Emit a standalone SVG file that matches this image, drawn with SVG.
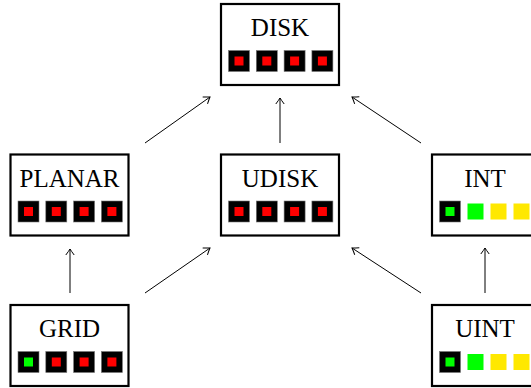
<svg xmlns="http://www.w3.org/2000/svg" width="531" height="388" viewBox="0 0 531 388">
  <style>
    .box { fill: #fff; stroke: #000; stroke-width: 2.2; }
    .lbl { font-family: "Liberation Serif", "Times New Roman", serif; font-size: 25px; fill: #000; text-anchor: middle; }
    .blk { fill: #000; stroke: #777; stroke-width: 0.6; }
    .red { fill: #ff0000; }
    .grn { fill: #00ff00; }
    .yel { fill: #ffe800; }
    .edge { stroke: #000; stroke-width: 1; fill: none; marker-end: url(#arr); }
  </style>
  <defs>
    <marker id="arr" markerUnits="userSpaceOnUse" viewBox="-7 -5 8 10" refX="0" refY="0" markerWidth="8" markerHeight="10" orient="auto">
      <path d="M-6,-4.2 Q-2,-1.2 0,0 Q-2,1.2 -6,4.2" fill="none" stroke="#000" stroke-width="1"/>
    </marker>
    <g id="bred">
      <rect class="blk" x="0" y="0" width="21" height="21"/>
      <rect class="red" x="6" y="6" width="9" height="9"/>
    </g>
    <g id="bgrn">
      <rect class="blk" x="0" y="0" width="21" height="21"/>
      <rect class="grn" x="6" y="6" width="9" height="9"/>
    </g>
  </defs>

  <g id="connectors">
    <line class="edge" x1="280" y1="143" x2="280" y2="98"/>
    <line class="edge" x1="145" y1="143" x2="210" y2="97"/>
    <line class="edge" x1="421" y1="143" x2="352" y2="97"/>
    <line class="edge" x1="70" y1="293" x2="70" y2="249"/>
    <line class="edge" x1="145" y1="293" x2="210" y2="248"/>
    <line class="edge" x1="421" y1="293" x2="352" y2="248"/>
    <line class="edge" x1="485" y1="293" x2="485" y2="248"/>
  </g>

  <g id="DISK" transform="translate(221,4)">
    <rect class="box" x="0" y="0" width="118" height="81"/>
    <text class="lbl" x="59" y="32">DISK</text>
    <use href="#bred" x="7.5" y="46.5"/>
    <use href="#bred" x="35.3" y="46.5"/>
    <use href="#bred" x="63.1" y="46.5"/>
    <use href="#bred" x="90.9" y="46.5"/>
  </g>

  <g id="PLANAR" transform="translate(10.5,154.5)">
    <rect class="box" x="0" y="0" width="118" height="81"/>
    <text class="lbl" x="59" y="32">PLANAR</text>
    <use href="#bred" x="7.5" y="46.5"/>
    <use href="#bred" x="35.3" y="46.5"/>
    <use href="#bred" x="63.1" y="46.5"/>
    <use href="#bred" x="90.9" y="46.5"/>
  </g>

  <g id="UDISK" transform="translate(221,154.5)">
    <rect class="box" x="0" y="0" width="118" height="81"/>
    <text class="lbl" x="59" y="32">UDISK</text>
    <use href="#bred" x="7.5" y="46.5"/>
    <use href="#bred" x="35.3" y="46.5"/>
    <use href="#bred" x="63.1" y="46.5"/>
    <use href="#bred" x="90.9" y="46.5"/>
  </g>

  <g id="INT" transform="translate(432,154.5)">
    <rect class="box" x="0" y="0" width="105" height="81"/>
    <text class="lbl" x="53" y="32">INT</text>
    <use href="#bgrn" x="7.5" y="46.5"/>
    <rect class="grn" x="35.5" y="49" width="16" height="16"/>
    <rect class="yel" x="58.5" y="49" width="16" height="16"/>
    <rect class="yel" x="81.5" y="49" width="16" height="16"/>
  </g>

  <g id="GRID" transform="translate(10.5,305)">
    <rect class="box" x="0" y="0" width="118" height="81"/>
    <text class="lbl" x="59" y="32">GRID</text>
    <use href="#bgrn" x="7.5" y="46.5"/>
    <use href="#bred" x="35.3" y="46.5"/>
    <use href="#bred" x="63.1" y="46.5"/>
    <use href="#bred" x="90.9" y="46.5"/>
  </g>

  <g id="UINT" transform="translate(432,305)">
    <rect class="box" x="0" y="0" width="105" height="81"/>
    <text class="lbl" x="53" y="32">UINT</text>
    <use href="#bgrn" x="7.5" y="46.5"/>
    <rect class="grn" x="35.5" y="49" width="16" height="16"/>
    <rect class="yel" x="58.5" y="49" width="16" height="16"/>
    <rect class="yel" x="81.5" y="49" width="16" height="16"/>
  </g>
</svg>
